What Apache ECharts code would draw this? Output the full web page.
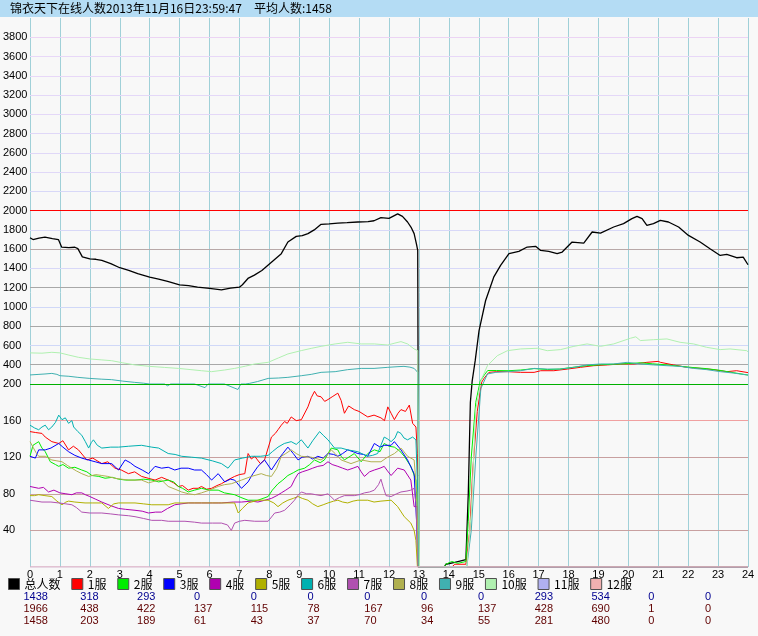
<!DOCTYPE html>
<html><head><meta charset="utf-8">
<script src="https://cdn.jsdelivr.net/npm/echarts@6/dist/echarts.min.js"></script>
<style>html,body{margin:0;padding:0;background:#f8f8f8}#c{width:758px;height:636px}</style>
</head><body><div id="c"></div><script>
const titleText = '锦衣天下在线人数2013年11月16日23:59:47　平均人数:1458';
const names = ['总人数','1服','2服','3服','4服','5服','6服','7服','8服','9服','10服','11服','12服'];
const colors = ['#000000','#ff0000','#00ee00','#0000ff','#b000b0','#b0b000','#00b0b0','#b050b0','#b0b050','#40b0b0','#b0f0b0','#b0b0f0','#f0b0b0'];
const curVals = [1438,318,293,0,0,0,0,0,0,293,534,0,0];
const maxVals = [1966,438,422,137,115,78,167,96,137,428,690,1,0];
const avgVals = [1458,203,189,61,43,37,70,34,55,281,480,0,0];
const hourTicks = [0,1,2,3,4,5,6,7,8,9,10,11,12,13,14,15,16,17,18,19,20,21,22,23,24];

// [hour, players]
const total = [[0,1719],[0.1,1700],[0.3,1715],[0.5,1725],[0.75,1710],[0.95,1700],[1.0,1691],[1.06,1621],[1.3,1615],[1.5,1620],[1.6,1605],[1.75,1520],[2.0,1500],[2.2,1495],[2.4,1483],[2.7,1450],[3.0,1407],[3.3,1380],[3.6,1345],[4.0,1310],[4.3,1290],[4.6,1265],[5.0,1230],[5.3,1222],[5.6,1205],[6.0,1192],[6.2,1185],[6.4,1178],[6.7,1195],[7.0,1205],[7.1,1230],[7.3,1300],[7.5,1330],[7.75,1379],[8.07,1465],[8.4,1553],[8.62,1674],[8.9,1733],[9.1,1740],[9.29,1761],[9.5,1800],[9.73,1858],[10.0,1862],[10.29,1871],[10.6,1875],[10.96,1882],[11.3,1885],[11.5,1895],[11.73,1927],[12.0,1920],[12.29,1966],[12.45,1940],[12.62,1882],[12.75,1820],[12.84,1761],[12.92,1650],[12.96,1587],[12.97,540],[13.0,0],[13.85,0],[13.9,3],[14.2,5],[14.57,8],[14.65,80],[14.72,180],[14.78,230],[14.88,440],[15.01,755],[15.23,1067],[15.5,1309],[15.73,1431],[16.01,1553],[16.34,1577],[16.62,1622],[16.9,1629],[17.07,1587],[17.34,1577],[17.62,1553],[17.79,1570],[18.12,1674],[18.51,1663],[18.79,1778],[19.07,1767],[19.51,1830],[19.84,1865],[20.12,1917],[20.29,1941],[20.46,1917],[20.62,1847],[20.84,1865],[21.07,1899],[21.34,1882],[21.68,1830],[22.01,1743],[22.4,1674],[22.73,1605],[23.07,1535],[23.29,1545],[23.62,1511],[23.84,1517],[24.0,1438]];
const s1 = [[0,148],[0.18,147],[0.4,146],[0.51,142],[0.73,137],[0.96,135],[1.1,138],[1.29,128],[1.45,132],[1.62,128],[1.9,117],[2.1,119],[2.4,113],[2.6,115],[2.84,108],[3.05,106],[3.29,102],[3.5,104],[3.73,99],[3.95,97],[4.18,95],[4.4,98],[4.62,95],[4.8,92],[4.96,88],[5.1,89],[5.29,84],[5.45,86],[5.62,86],[5.73,88],[5.9,85],[6.07,86],[6.25,89],[6.4,91],[6.6,95],[6.84,99],[7.0,101],[7.18,102],[7.29,124],[7.4,118],[7.51,121],[7.7,113],[7.84,117],[8.07,142],[8.2,146],[8.29,150],[8.4,155],[8.51,159],[8.6,157],[8.73,164],[8.9,160],[9.07,161],[9.29,175],[9.4,185],[9.51,192],[9.6,187],[9.73,186],[9.85,181],[9.96,183],[10.1,186],[10.29,190],[10.4,182],[10.51,168],[10.65,176],[10.84,172],[11.0,170],[11.29,164],[11.5,166],[11.73,163],[11.85,160],[11.96,175],[12.07,168],[12.18,161],[12.3,168],[12.4,172],[12.55,170],[12.68,177],[12.79,157],[12.9,153],[12.95,124],[12.99,44],[13.0,0],[14.1,0],[14.2,3],[14.57,3],[14.7,40],[14.8,106],[14.95,170],[15.1,220],[15.18,260],[15.34,321],[15.6,328],[15.96,328],[16.4,321],[16.85,321],[17.07,338],[17.51,338],[17.96,355],[18.4,373],[18.84,390],[19.3,398],[19.73,408],[20.2,408],[20.62,425],[21.0,435],[21.07,425],[21.51,398],[21.96,373],[22.4,362],[22.84,349],[23.29,328],[23.62,338],[24,318]];
const s2 = [[0,121],[0.1,133],[0.29,137],[0.4,130],[0.51,126],[0.68,115],[0.85,112],[0.96,110],[1.1,112],[1.29,108],[1.5,109],[1.73,106],[1.9,104],[2.07,100],[2.3,99],[2.51,97],[2.75,98],[2.96,96],[3.2,95],[3.51,95],[3.8,96],[4.07,95],[4.3,93],[4.62,95],[4.8,93],[4.96,88],[5.1,86],[5.29,82],[5.5,84],[5.73,86],[6.0,84],[6.29,84],[6.5,81],[6.84,79],[7.05,76],[7.29,73],[7.62,73],[7.96,77],[8.1,84],[8.29,91],[8.45,95],[8.62,100],[8.8,103],[8.96,106],[9.18,108],[9.35,112],[9.51,117],[9.7,114],[9.84,117],[10.07,130],[10.29,128],[10.4,121],[10.51,117],[10.7,121],[10.84,124],[11.07,115],[11.29,124],[11.51,128],[11.7,126],[11.84,135],[12.0,132],[12.18,131],[12.35,127],[12.51,121],[12.73,110],[12.9,95],[12.98,40],[13.0,0],[13.85,0],[13.9,3],[14.1,6],[14.3,4],[14.57,6],[14.65,50],[14.75,120],[14.9,180],[15.05,230],[15.2,300],[15.3,340],[15.6,340],[16.0,338],[16.4,345],[16.85,360],[17.3,350],[17.7,355],[18.2,375],[18.6,390],[19.1,400],[19.5,405],[20.0,412],[20.4,420],[20.8,410],[21.3,398],[21.7,385],[22.2,370],[22.6,360],[23.1,340],[23.5,318],[24,293]];
const s3 = [[0,121],[0.18,119],[0.29,128],[0.51,128],[0.7,130],[0.96,135],[1.1,131],[1.29,126],[1.5,122],[1.73,119],[1.95,117],[2.18,115],[2.4,113],[2.73,113],[2.96,106],[3.18,117],[3.35,114],[3.51,110],[3.75,106],[3.96,102],[4.18,110],[4.4,108],[4.62,109],[4.84,106],[5.05,108],[5.29,108],[5.5,106],[5.73,106],[5.9,101],[6.07,95],[6.29,102],[6.51,93],[6.7,96],[6.84,95],[7.07,86],[7.29,93],[7.45,102],[7.62,110],[7.84,117],[8.07,106],[8.29,117],[8.45,124],[8.62,131],[8.8,124],[8.96,117],[9.1,120],[9.29,121],[9.45,118],[9.62,121],[9.8,119],[9.96,124],[10.15,123],[10.29,121],[10.45,124],[10.62,128],[10.8,126],[10.96,124],[11.15,123],[11.29,121],[11.51,135],[11.7,131],[11.84,133],[12.07,133],[12.18,137],[12.4,128],[12.62,117],[12.84,102],[12.92,51],[12.97,0],[24,0]];
const s4 = [[0,88],[0.29,86],[0.45,87],[0.62,82],[0.8,84],[1.0,81],[1.2,80],[1.4,79],[1.55,81],[1.73,81],[1.85,79],[2.0,77],[2.2,74],[2.4,71],[2.7,67],[2.96,64],[3.2,63],[3.51,62],[3.75,61],[3.96,59],[4.2,60],[4.4,60],[4.6,64],[4.84,68],[5.05,69],[5.29,70],[5.5,70],[5.73,70],[6.1,70],[6.4,70],[6.8,71],[7.07,71],[7.4,72],[7.62,71],[7.85,73],[8.07,75],[8.25,78],[8.4,81],[8.55,84],[8.73,88],[8.85,96],[8.96,102],[9.1,104],[9.29,106],[9.45,108],[9.62,110],[9.8,111],[9.96,115],[10.1,112],[10.29,110],[10.45,108],[10.62,106],[10.8,108],[10.96,110],[11.07,104],[11.18,99],[11.35,104],[11.51,106],[11.7,108],[11.84,110],[11.95,105],[12.07,100],[12.18,104],[12.29,108],[12.51,106],[12.73,95],[12.84,66],[12.95,66],[12.99,0],[24,0]];
const s5 = [[0,78],[0.15,78],[0.29,79],[0.5,78],[0.73,77],[0.9,72],[1.07,68],[1.2,71],[1.29,72],[1.5,71],[1.84,70],[2.1,70],[2.4,70],[2.62,64],[2.8,69],[2.96,70],[3.51,70],[3.8,69],[4.07,68],[4.62,68],[4.84,70],[5.29,70],[5.73,70],[6.3,70],[6.84,70],[6.96,59],[7.1,64],[7.29,70],[7.62,73],[7.96,73],[8.15,70],[8.29,66],[8.45,70],[8.62,73],[8.8,75],[8.96,77],[9.1,75],[9.29,73],[9.45,69],[9.62,66],[9.8,68],[9.96,70],[10.15,72],[10.29,73],[10.45,71],[10.62,70],[10.8,72],[10.96,73],[11.29,73],[11.5,71],[11.73,72],[12.07,73],[12.29,66],[12.51,55],[12.73,48],[12.84,40],[12.9,29],[12.95,0],[24,0]];
const s6 = [[0,155],[0.15,152],[0.29,150],[0.4,153],[0.51,155],[0.62,150],[0.73,153],[0.85,158],[0.96,166],[1.0,167],[1.07,161],[1.18,163],[1.29,157],[1.4,160],[1.46,153],[1.6,148],[1.73,144],[1.85,137],[1.96,130],[2.05,136],[2.12,139],[2.25,133],[2.4,130],[2.7,131],[2.96,131],[3.3,132],[3.73,133],[3.9,132],[4.07,131],[4.3,130],[4.62,124],[4.85,123],[5.07,121],[5.4,120],[5.73,119],[6.1,116],[6.4,113],[6.62,108],[6.84,117],[7.1,119],[7.4,121],[7.7,121],[7.96,122],[8.1,126],[8.29,131],[8.5,135],[8.73,137],[8.9,134],[9.07,139],[9.29,130],[9.45,138],[9.68,148],[9.8,144],[9.96,139],[10.18,130],[10.4,130],[10.62,128],[10.8,127],[10.96,126],[11.15,123],[11.29,121],[11.45,122],[11.62,124],[11.84,142],[11.95,140],[12.07,137],[12.2,141],[12.29,148],[12.4,146],[12.5,141],[12.62,139],[12.79,142],[12.9,139],[12.96,81],[13.0,0],[24,0]];
const s7 = [[0,73],[0.2,72],[0.4,71],[0.7,71],[0.96,70],[1.2,69],[1.4,68],[1.55,65],[1.73,60],[2.0,59],[2.4,59],[2.7,58],[2.96,57],[3.3,56],[3.51,55],[3.8,53],[4.07,51],[4.4,51],[4.62,50],[5.18,50],[5.5,49],[5.73,48],[6.1,48],[6.4,48],[6.6,46],[6.73,40],[6.84,48],[7.0,50],[7.18,51],[7.51,50],[7.96,50],[8.18,59],[8.35,60],[8.51,62],[8.7,68],[8.84,73],[8.95,78],[9.07,82],[9.25,80],[9.4,80],[9.55,79],[9.73,78],[9.96,80],[10.18,73],[10.35,76],[10.51,78],[10.84,78],[11.0,79],[11.18,81],[11.35,82],[11.51,84],[11.65,90],[11.73,96],[11.8,88],[11.9,78],[12.07,77],[12.25,80],[12.4,82],[12.6,83],[12.73,84],[12.84,86],[12.9,70],[12.97,0],[24,0]];
const s8 = [[0,137],[0.1,131],[0.2,125],[0.29,121],[0.51,121],[0.73,117],[0.9,116],[1.07,115],[1.25,111],[1.4,108],[1.55,105],[1.73,102],[1.96,99],[2.2,101],[2.4,100],[2.6,99],[2.84,97],[3.05,96],[3.29,95],[3.73,95],[3.96,92],[4.2,94],[4.4,95],[4.62,88],[4.85,85],[5.07,82],[5.3,80],[5.51,79],[5.73,81],[6.0,84],[6.29,88],[6.5,90],[6.73,91],[7.07,95],[7.4,99],[7.73,102],[7.9,100],[8.07,99],[8.25,108],[8.4,121],[8.55,124],[8.73,128],[8.9,124],[9.07,121],[9.4,120],[9.73,117],[9.9,121],[10.07,128],[10.2,124],[10.4,117],[10.73,113],[10.9,115],[11.07,117],[11.4,115],[11.73,115],[11.95,120],[12.18,124],[12.4,130],[12.5,126],[12.62,121],[12.84,117],[12.93,81],[12.98,0],[24,0]];
const s9 = [[0,294],[0.3,300],[0.5,304],[0.73,310],[0.9,300],[1.0,286],[1.3,280],[1.6,269],[2.0,258],[2.4,250],[2.73,245],[3.1,230],[3.5,217],[3.8,208],[4.0,200],[4.5,200],[4.6,198],[4.7,200],[5.5,200],[5.85,196],[5.95,200],[6.5,200],[6.95,194],[7.05,200],[7.2,200],[7.33,206],[7.6,225],[7.96,258],[8.3,262],[8.62,269],[9.07,286],[9.4,300],[9.73,321],[10.2,328],[10.62,349],[11.07,362],[11.5,362],[11.96,373],[12.3,380],[12.5,383],[12.7,375],[12.84,362],[12.96,321],[13.0,0],[14.6,0],[14.75,40],[14.9,120],[15.07,195],[15.29,304],[15.57,321],[15.96,328],[16.4,338],[16.85,362],[17.29,355],[17.73,355],[18.18,373],[18.62,398],[19.07,408],[19.51,408],[19.96,425],[20.4,408],[20.84,398],[21.29,390],[21.73,383],[22.18,362],[22.62,349],[23.07,328],[23.51,314],[23.96,294],[24,293]];
const s10 = [[0,523],[0.4,520],[0.73,529],[1.0,523],[1.3,500],[1.62,477],[2.0,460],[2.4,450],[2.73,442],[3.1,420],[3.51,398],[4.0,383],[4.5,372],[4.96,362],[5.35,350],[5.73,338],[6.07,328],[6.5,345],[6.84,362],[7.2,385],[7.51,408],[7.96,425],[8.3,470],[8.62,512],[9.07,547],[9.4,570],[9.73,591],[10.2,616],[10.62,633],[11.07,616],[11.51,616],[11.96,605],[12.2,625],[12.4,640],[12.62,616],[12.84,564],[12.96,547],[12.99,100],[13.02,0],[14.6,0],[14.75,60],[14.9,172],[15.07,235],[15.29,390],[15.62,494],[15.96,546],[16.4,564],[16.96,571],[17.29,546],[17.73,557],[18.18,591],[18.62,616],[19.07,591],[19.51,616],[20.07,675],[20.25,690],[20.4,651],[20.84,660],[21.29,668],[21.73,633],[22.18,616],[22.62,581],[23.07,557],[23.4,564],[23.96,546],[24,534]];
const s11 = [[0,0],[24,0]];
const s12 = [[0,0],[24,0]];
const seriesPts = [total,s1,s2,s3,s4,s5,s6,s7,s8,s9,s10,s11,s12];

// horizontal reference lines [value, colour]
const gridLines = [[40,'#c8a0a0'],[80,'#c8a0a0'],[120,'#c8a0a0'],[160,'#f0a0a0'],
  [400,'#a8a8a8'],[600,'#d0d8f8'],[800,'#a8a8a8'],[1000,'#d0d8f8'],[1200,'#a8a8a8'],[1400,'#d8d8f8'],
  [1600,'#b8a8a8'],[1800,'#d8d8f8'],[2000,'#ff0000'],[2200,'#d8d8f8'],[2400,'#e0d8f8'],[2600,'#e0d8f8'],
  [2800,'#e0d8f8'],[3000,'#e4d8f8'],[3200,'#e4d8f8'],[3400,'#e8d8f8'],[3600,'#e8d8f8'],[3800,'#ecd4f4']];
const sepLine = [[200,'#00b000']];

// piecewise vertical scale: 0-200 expanded, 200-4000 compressed
const BREAK = 200, RATIO = 9.5;
const f = v => v <= BREAK ? v : BREAK + (v - BREAK) / RATIO;

const chart = echarts.init(document.getElementById('c'), null, {renderer:'canvas'});
const labFont = {fontSize:11, color:'#000', fontFamily:'Liberation Sans'};
const series = [
  {type:'line', data:[], silent:true, z:1,
   markLine:{silent:true, symbol:'none', z:1, animation:false, label:{show:false},
     data: gridLines.map(([v,c]) => ({yAxis:f(v), lineStyle:{color:c, width:1, type:'solid'}}))}},
  {type:'line', data:[], silent:true, z:10,
   markLine:{silent:true, symbol:'none', z:10, animation:false, label:{show:false},
     data: sepLine.map(([v,c]) => ({yAxis:f(v), lineStyle:{color:c, width:1, type:'solid'}}))}}
];
seriesPts.forEach((pts, i) => {
  series.push({type:'line', name:names[i], data:pts.map(([h,v]) => [h, f(v)]),
    showSymbol:false, symbol:'none', z:3, animation:false,
    lineStyle:{color:colors[i], width: i===0 ? 1.3 : 1},
    itemStyle:{color:colors[i]}});
});

const graphics = [{type:'rect', shape:{x:0,y:0,width:758,height:17}, style:{fill:'#b4dcf4'}, z:-10, silent:true}];
const rows = [[curVals,597,'#000090'],[maxVals,609,'#600000'],[avgVals,621,'#600000']];
rows.forEach(([arr,y,col]) => arr.forEach((v,i) => {
  graphics.push({type:'text', x: 8 + 56.8*i + 15.5, y: y, silent:true,
    style:{text:String(v), fill:col, font:'11px "Liberation Sans"', verticalAlign:'middle', align:'left'}});
}));

chart.setOption({
  animation:false,
  backgroundColor:'#f8f8f8',
  title:{text:titleText, left:10, top:2, padding:0,
    textStyle:{fontSize:12, fontWeight:'normal', color:'#000', fontFamily:'Noto Sans CJK SC'}},
  grid:{left:28, right:10, top:18, bottom:69, show:true, backgroundColor:'#f8f8f8', borderWidth:0},
  xAxis:{type:'value', min:0, max:24, interval:1,
    axisLine:{show:false}, axisTick:{show:false},
    splitLine:{show:true, lineStyle:{color:'#a0d0d8', width:1}},
    axisLabel:Object.assign({margin:2, formatter: v => hourTicks.includes(v) ? String(v) : ''}, labFont)},
  yAxis:[
    {type:'value', position:'left', min:0, max:600, interval:40,
     axisLine:{show:false}, axisTick:{show:false}, splitLine:{show:false},
     axisLabel:Object.assign({align:'left', margin:27, formatter: v => (v>0 && v<200) ? String(v) : ''}, labFont)},
    {type:'value', position:'left', offset:0, min:-1700, max:4000, interval:100,
     axisLine:{show:false}, axisTick:{show:false}, splitLine:{show:false},
     axisLabel:Object.assign({align:'left', margin:27, formatter: v => (v>=200 && v<=3800 && v%200===0) ? String(v) : ''}, labFont)}
  ],
  legend:{left:8, top:578, padding:0, itemWidth:11, itemHeight:11, itemGap:10.8, selectedMode:false,
    textStyle:{width:30, fontSize:12, color:'#000', fontFamily:'Noto Sans CJK SC'},
    data: names.map((n,i) => ({name:n, icon:'rect', itemStyle:{color:colors[i], borderColor:'#505050', borderWidth:1}}))},
  series: series,
  graphic: graphics
});
</script></body></html>
